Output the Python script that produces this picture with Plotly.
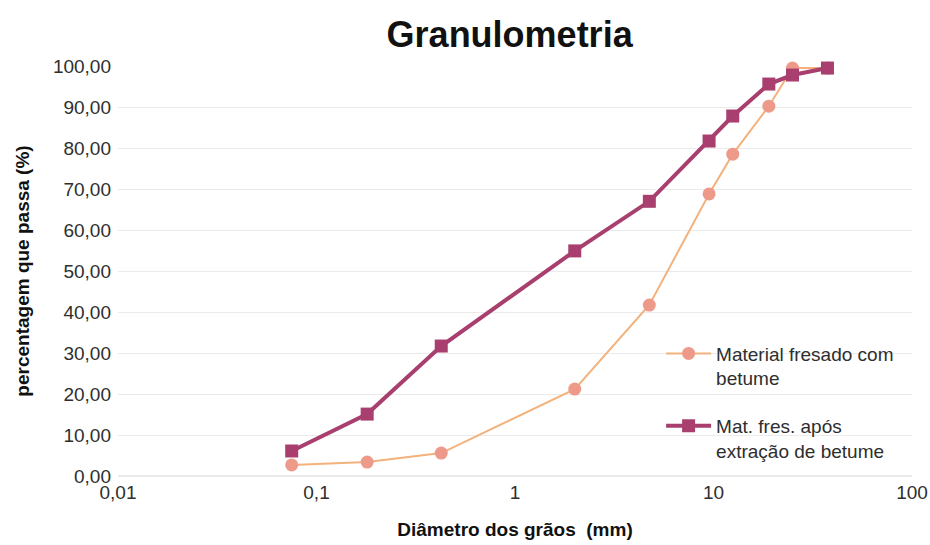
import plotly.graph_objects as go

# Sieve openings (mm) and percent passing
diametro = [0.075, 0.18, 0.425, 2.0, 4.75, 9.5, 12.5, 19.0, 25.0, 37.5]
com_betume = [2.7, 3.4, 5.6, 21.2, 41.7, 68.8, 78.5, 90.2, 99.5, 99.5]
apos_extracao = [6.1, 15.1, 31.7, 54.9, 67.0, 81.7, 87.8, 95.6, 97.8, 99.5]

x_ticks = [0.01, 0.1, 1, 10, 100]
x_tick_labels = ["0,01", "0,1", "1", "10", "100"]
y_ticks = [0, 10, 20, 30, 40, 50, 60, 70, 80, 90, 100]

font_family = "Liberation Sans, Arial, sans-serif"

fig = go.Figure()
fig.add_trace(go.Scatter(
    x=diametro, y=com_betume, mode="lines+markers",
    name="Material fresado com<br>betume", legendgroup="com",
    line=dict(color="#F3B27C", width=2),
    marker=dict(symbol="circle", size=13, color="#EE9A8A"),
    cliponaxis=False,
))
fig.add_trace(go.Scatter(
    x=diametro, y=apos_extracao, mode="lines+markers",
    name="Mat. fres. após<br>extração de betume", legendgroup="apos",
    line=dict(color="#A83F6E", width=4),
    marker=dict(symbol="square", size=13, color="#A83F6E"),
    cliponaxis=False,
))

fig.update_layout(
    width=930, height=545,
    paper_bgcolor="white", plot_bgcolor="white",
    separators=",.",
    font=dict(family=font_family, size=19, color="#2E2E2E"),
    title=dict(text="<b>Granulometria</b>", x=0.548, xanchor="center", y=0.936, yanchor="middle",
               font=dict(size=36, color="#111111", family=font_family)),
    margin=dict(l=118, r=18, t=66, b=69),
    xaxis=dict(
        type="log", range=[-2, 2], automargin=False,
        tickvals=x_ticks, ticktext=x_tick_labels,
        showgrid=False, zeroline=False, showline=False,
        ticks="", tickfont=dict(size=19, color="#2E2E2E"), ticklabelstandoff=3,
        title=dict(text="<b>Diâmetro dos grãos  (mm)</b>", font=dict(size=19, color="#111111"), standoff=20),
    ),
    yaxis=dict(
        range=[0, 100], tickvals=y_ticks, tickformat=".2f", automargin=False,
        showgrid=True, gridcolor="#EBEBEB", gridwidth=1,
        zeroline=True, zerolinecolor="#EBEBEB", showline=False,
        ticks="", tickfont=dict(size=19, color="#2E2E2E"), ticklabelstandoff=6,
        title=dict(text="<b>percentagem que passa (%)</b>", font=dict(size=19, color="#111111"), standoff=18),
    ),
    legend=dict(
        x=0.684, y=0.345, xanchor="left", yanchor="top", valign="top",
        bgcolor="rgba(255,255,255,0)", font=dict(size=19, color="#2E2E2E"),
        tracegroupgap=20, itemwidth=45,
    ),
)

fig.write_html("out.html")
